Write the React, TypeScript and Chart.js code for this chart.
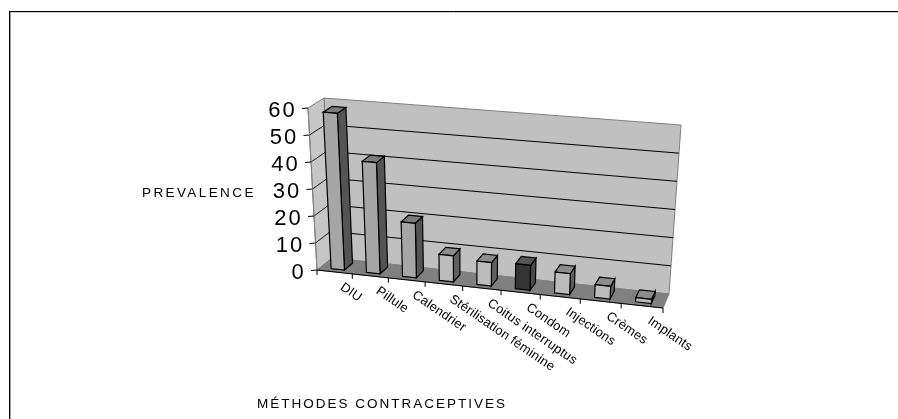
import React, { useEffect, useRef } from "react";
import { Chart, registerables } from "chart.js";

Chart.register(...registerables);

const categories = ["DIU", "Pillule", "Calendrier", "Stérilisation féminine", "Coitus interruptus", "Condom", "Injections", "Crèmes", "Implants"];
const prevalence = [58, 41, 20, 9.5, 8.5, 9, 7.5, 4.5, 1.5];
const frontColors = ["#a6a6a6", "#a6a6a6", "#a6a6a6", "#bcbcbc", "#bcbcbc", "#333333", "#bcbcbc", "#bcbcbc", "#bcbcbc"];
const sideColors = ["#545454", "#545454", "#545454", "#606060", "#606060", "#4a4a4a", "#606060", "#606060", "#606060"];
const topColors = ["#7c7c7c", "#7c7c7c", "#7c7c7c", "#8c8c8c", "#8c8c8c", "#555555", "#8c8c8c", "#8c8c8c", "#8c8c8c"];
const yTitle = "PREVALENCE";
const xTitle = "MÉTHODES CONTRACEPTIVES";

type Pt = [number, number];
// Corners of the 3D box as they appear on the page: F/B front/back, B/T bottom/top, L/R left/right
const FBL: Pt = [317, 270], FTL: Pt = [308, 108], BBL: Pt = [332, 258], BTL: Pt = [324, 98];
const FBR: Pt = [663, 308], FTR: Pt = [674, 139], BBR: Pt = [669, 294], BTR: Pt = [681, 125];

const warp = (u: number) => u / (1.1 - 0.1 * u);
const mix = (a: Pt, b: Pt, t: number): Pt => [a[0] + (b[0] - a[0]) * t, a[1] + (b[1] - a[1]) * t];
const project = (uRaw: number, v: number, d: number): Pt => {
  const u = warp(uRaw);
  const fb = mix(FBL, FBR, u), ft = mix(FTL, FTR, u), bb = mix(BBL, BBR, u), bt = mix(BTL, BTR, u);
  return mix(mix(fb, ft, v), mix(bb, bt, v), d);
};

const poly = (ctx: CanvasRenderingContext2D, pts: Pt[], fill: string | null, stroke: string | null, lw = 1) => {
  ctx.beginPath();
  pts.forEach((p, i) => (i ? ctx.lineTo(p[0], p[1]) : ctx.moveTo(p[0], p[1])));
  ctx.closePath();
  if (fill) { ctx.fillStyle = fill; ctx.fill(); }
  if (stroke) { ctx.strokeStyle = stroke; ctx.lineWidth = lw; ctx.stroke(); }
};
const seg = (ctx: CanvasRenderingContext2D, a: Pt, b: Pt, color: string, lw = 1) => {
  ctx.beginPath(); ctx.moveTo(a[0], a[1]); ctx.lineTo(b[0], b[1]);
  ctx.strokeStyle = color; ctx.lineWidth = lw; ctx.stroke();
};

const BAR_FRONT = 0.22, BAR_BACK = 0.78;

const scene3d = {
  id: "scene3d",
  beforeDatasetsDraw(chart: any) {
    const ctx: CanvasRenderingContext2D = chart.ctx;
    const area = chart.chartArea;
    const yScale = chart.scales.y, xScale = chart.scales.x;
    const toV = (py: number) => (area.bottom - py) / (area.bottom - area.top);
    const toU = (px: number) => (px - area.left) / (area.right - area.left);
    ctx.save();

    // outer frame
    ctx.fillStyle = "#ffffff"; ctx.fillRect(0, 0, 898, 419);
    seg(ctx, [9, 12], [898, 12], "#9a9a9a", 1);
    seg(ctx, [10.5, 12], [10.5, 419], "#9a9a9a", 1);
    seg(ctx, [9, 11.5], [898, 11.5], "#000000", 1);
    seg(ctx, [9.5, 11], [9.5, 419], "#000000", 1);

    // walls and floor
    poly(ctx, [BBL, BTL, BTR, BBR], "#c0c0c0", "#808080");
    poly(ctx, [FBL, FTL, BTL, BBL], "#c6c6c6", "#808080");
    poly(ctx, [FBL, BBL, BBR, FBR], "#808080", "#808080");

    // gridlines
    for (const t of yScale.ticks) {
      const v = toV(yScale.getPixelForValue(t.value));
      if (t.value > 0 && t.value < yScale.max) {
        seg(ctx, project(0, v, 0), project(0, v, 1), "#000000", 0.9);
        seg(ctx, project(0, v, 1), project(1, v, 1), "#000000", 1);
      }
    }

    // bars
    const meta = chart.getDatasetMeta(0);
    meta.data.forEach((bar: any, i: number) => {
      const { x, y, base, width } = bar.getProps(["x", "y", "base", "width"], true);
      const u0 = toU(x - width / 2), u1 = toU(x + width / 2);
      const v1 = toV(y), v0 = toV(base);
      const p = (u: number, v: number, d: number) => project(u, v, d);
      poly(ctx, [p(u1, v0, BAR_FRONT), p(u1, v1, BAR_FRONT), p(u1, v1, BAR_BACK), p(u1, v0, BAR_BACK)], sideColors[i], "#000000", 1.2);
      poly(ctx, [p(u0, v1, BAR_FRONT), p(u1, v1, BAR_FRONT), p(u1, v1, BAR_BACK), p(u0, v1, BAR_BACK)], topColors[i], "#000000", 1.2);
      poly(ctx, [p(u0, v0, BAR_FRONT), p(u1, v0, BAR_FRONT), p(u1, v1, BAR_FRONT), p(u0, v1, BAR_FRONT)], frontColors[i], "#000000", 1.2);
    });

    // axes
    seg(ctx, FBL, FTL, "#808080", 1);
    seg(ctx, FBL, FBR, "#000000", 1.2);
    ctx.fillStyle = "#000000";

    // y ticks and labels
    ctx.font = "22px 'Liberation Sans'";
    (ctx as any).letterSpacing = "2.2px";
    ctx.textAlign = "right";
    ctx.textBaseline = "middle";
    for (const t of yScale.ticks) {
      const v = toV(yScale.getPixelForValue(t.value));
      const q = project(0, v, 0);
      seg(ctx, q, [q[0] - 6, q[1] + 0.5], "#000000", 1);
      ctx.fillStyle = "#000000";
      ctx.fillText(String(t.value), q[0] - 11, q[1] + 2.5);
    }

    // x ticks and labels
    ctx.font = "13px 'Liberation Sans'";
    (ctx as any).letterSpacing = "0.2px";
    ctx.textAlign = "left";
    ctx.textBaseline = "middle";
    const labels = chart.data.labels as string[];
    const n = labels.length;
    for (let i = 0; i <= n; i++) {
      const q = project(i / n, 0, 0);
      seg(ctx, q, [q[0], q[1] + 5], "#000000", 1);
    }
    labels.forEach((label, i) => {
      const cx = xScale.getPixelForValue(i);
      const q = project(toU(cx), 0, 0);
      ctx.save();
      ctx.translate(q[0] + 7, q[1] + 14);
      ctx.rotate((34.5 * Math.PI) / 180);
      ctx.fillStyle = "#000000";
      ctx.fillText(label, 0, 0);
      ctx.restore();
    });

    // axis titles
    ctx.font = "13.5px 'Liberation Sans'";
    (ctx as any).letterSpacing = "2.4px";
    ctx.textBaseline = "alphabetic";
    ctx.fillStyle = "#000000";
    ctx.fillText(yTitle, 142, 197);
    (ctx as any).letterSpacing = "2px";
    ctx.fillText(xTitle, 257, 408);
    (ctx as any).letterSpacing = "0px";
    ctx.restore();
    return false;
  },
};

export default function App() {
  const ref = useRef<HTMLCanvasElement>(null);
  useEffect(() => {
    const chart = new Chart(ref.current!, {
      type: "bar",
      data: {
        labels: categories,
        datasets: [{ label: yTitle, data: prevalence, backgroundColor: frontColors, categoryPercentage: 0.38, barPercentage: 1 }],
      },
      options: {
        responsive: false,
        animation: false,
        devicePixelRatio: 1,
        layout: { padding: 0 },
        plugins: { legend: { display: false }, tooltip: { enabled: false }, title: { display: false } },
        scales: {
          x: { display: false, type: "category" },
          y: { display: false, type: "linear", min: 0, max: 60, ticks: { stepSize: 10 } },
        },
      },
      plugins: [scene3d],
    } as any);
    return () => chart.destroy();
  }, []);
  return (
    <canvas
      ref={ref}
      width={898}
      height={419}
      style={{ position: "fixed", left: 0, top: 0, width: 898, height: 419, display: "block" }}
    />
  );
}
